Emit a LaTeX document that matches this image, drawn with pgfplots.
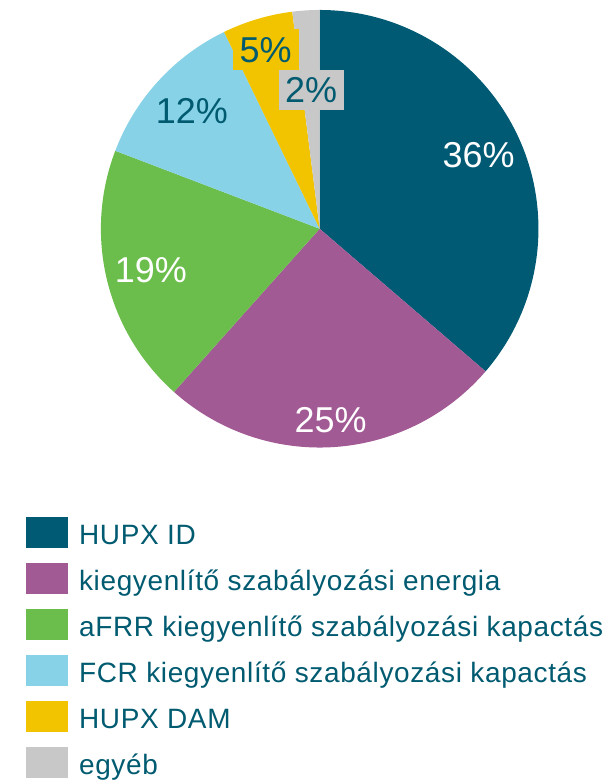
\documentclass[border=0pt]{standalone}
\usepackage{pgfplots}
\pgfplotsset{compat=1.18}
\usepackage{pgfplotstable}
\usepackage{fontspec}
\setmainfont{Liberation Sans}
\newfontfamily\legfont[LetterSpace=2.3]{Liberation Sans}
\definecolor{slice0}{RGB}{0,90,115}
\definecolor{slice1}{RGB}{162,90,148}
\definecolor{slice2}{RGB}{107,190,75}
\definecolor{slice3}{RGB}{135,210,231}
\definecolor{slice4}{RGB}{242,196,0}
\definecolor{slice5}{RGB}{200,200,200}
\definecolor{labelteal}{RGB}{0,90,112}
\pgfplotstableread{
share
36.3
25.3
19.2
12.0
5.2
2.0
}\piedata
\begin{document}
\begin{tikzpicture}
\begin{axis}[width=610pt,height=780pt,scale only axis,
  xmin=0,xmax=610,ymin=0,ymax=780,hide axis,clip=false]
\path (axis cs:0,0) rectangle (axis cs:610,780);
\def\cum{0}
\pgfplotsforeachungrouped \i in {0,...,5}{%
  \pgfplotstablegetelem{\i}{share}\of\piedata
  \let\v=\pgfplotsretval
  \pgfmathsetmacro\a{90-\cum*3.6}%
  \pgfmathsetmacro\b{90-(\cum+\v)*3.6}%
  \edef\temp{\noexpand\fill[slice\i] (axis cs:320,551) -- ++(\a:219pt) arc[start angle=\a,end angle=\b,radius=219pt] -- cycle;}%
  \temp
  \pgfmathsetmacro\cum{\cum+\v}%
}
\tikzset{pl/.style={font=\fontsize{36}{36}\selectfont, text height=26pt, text depth=0pt, inner sep=0pt}}
\node[pl,text=white] at (axis cs:479,625) {36\%};
\node[pl,text=white] at (axis cs:331,360) {25\%};
\node[pl,text=white] at (axis cs:151,510) {19\%};
\node[pl,text=labelteal] at (axis cs:192,669) {12\%};
\node[pl,text=labelteal,fill=slice4,minimum width=66pt,minimum height=41pt] at (axis cs:266,730.5) {5\%};
\node[pl,text=labelteal,fill=slice5,minimum width=65pt,minimum height=40pt] at (axis cs:311.5,690) {2\%};
% legend
\tikzset{lt/.style={anchor=base west, inner sep=0pt, text=labelteal, font=\legfont\fontsize{28}{28}\selectfont}}
\fill[slice0] (axis cs:26,262) rectangle (axis cs:68,231);
\node[lt] at (axis cs:79,235) {HUPX ID};
\fill[slice1] (axis cs:26,216) rectangle (axis cs:68,185);
\node[lt] at (axis cs:79,189) {kiegyenlítő szabályozási energia};
\fill[slice2] (axis cs:26,170) rectangle (axis cs:68,139);
\node[lt] at (axis cs:79,143) {aFRR kiegyenlítő szabályozási kapactás};
\fill[slice3] (axis cs:26,124) rectangle (axis cs:68,93);
\node[lt] at (axis cs:79,97) {FCR kiegyenlítő szabályozási kapactás};
\fill[slice4] (axis cs:26,78) rectangle (axis cs:68,47);
\node[lt] at (axis cs:79,51) {HUPX DAM};
\fill[slice5] (axis cs:26,32) rectangle (axis cs:68,1);
\node[lt] at (axis cs:79,5) {egyéb};
\end{axis}
\end{tikzpicture}
\end{document}
